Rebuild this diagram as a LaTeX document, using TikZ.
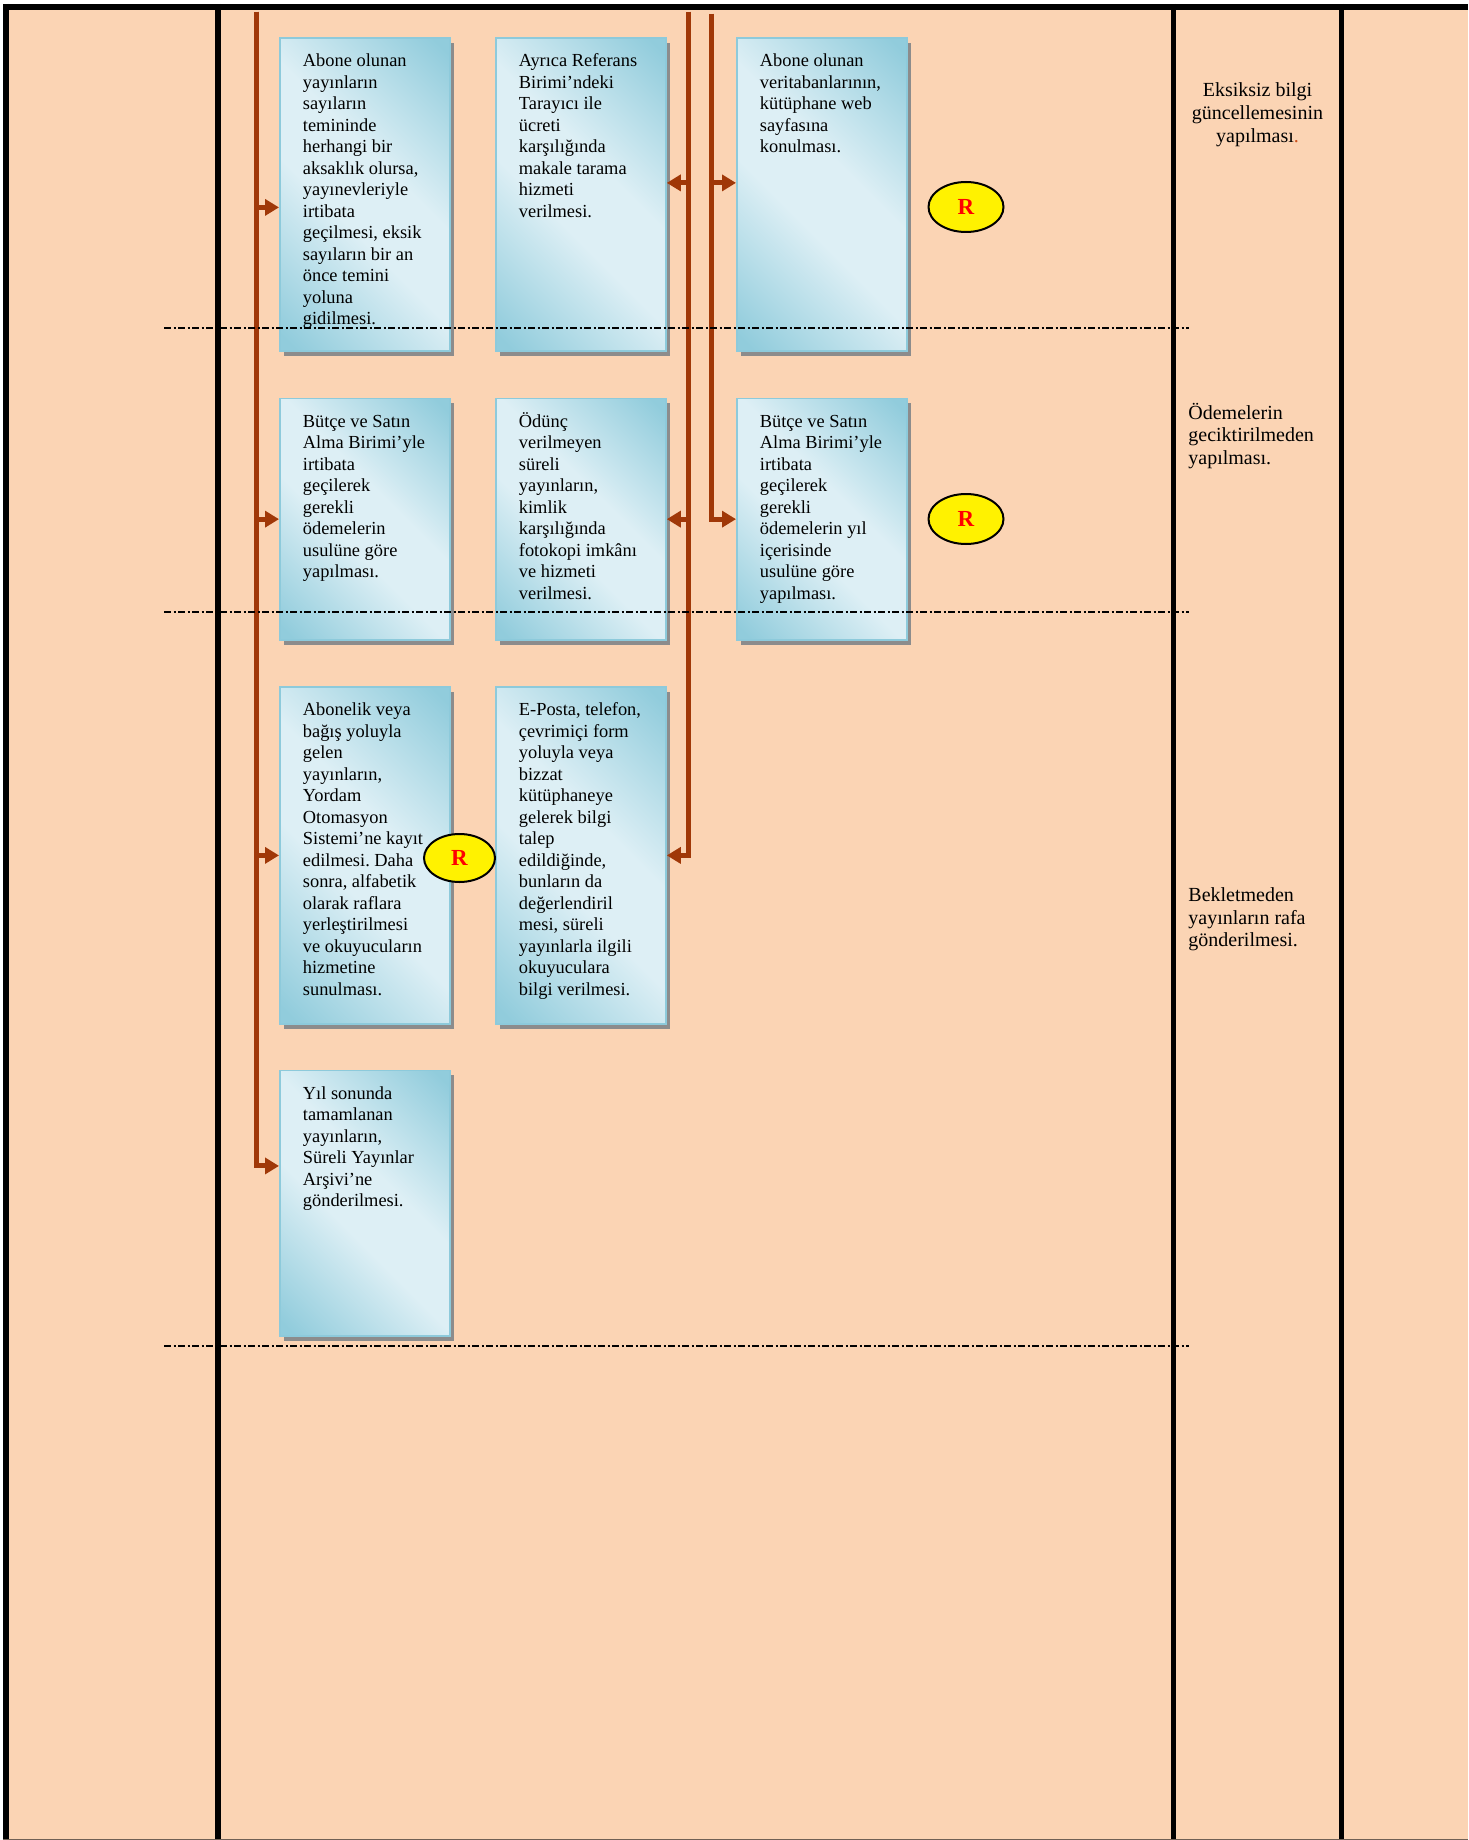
\documentclass[tikz,border=0pt]{standalone}
\usepackage{fontspec}
\setmainfont{Liberation Serif}
\usetikzlibrary{arrows.meta,shapes.geometric,shadows}
\frenchspacing

\definecolor{peach}{RGB}{251,212,180}
\definecolor{bdark}{RGB}{145,204,220}
\definecolor{blight}{RGB}{221,239,245}
\definecolor{bedge}{RGB}{141,202,219}
\definecolor{flowc}{RGB}{160,56,8}
\definecolor{dotred}{RGB}{204,82,30}
\definecolor{edgebrown}{RGB}{112,96,84}

% glassy fill: light along one diagonal, darker towards the other two corners
\pgfdeclarehorizontalshading{glassblue}{100bp}{%
  color(0bp)=(bdark); color(17bp)=(bdark); color(43bp)=(blight);
  color(57bp)=(blight); color(83bp)=(bdark); color(100bp)=(bdark)}

% text block of a step box: fixed height, first baseline kept at the same depth
\newcommand{\celltext}[2]{\parbox[t][#1][t]{62pt}{%
  \fontsize{9.2pt}{10.75pt}\selectfont\raggedright\rule{0pt}{9.5pt}#2}}

\begin{document}
\begin{tikzpicture}[x=0.5pt,y=-0.5pt,
  task/.style={rectangle, anchor=north west, inner xsep=11.5pt, inner ysep=5pt,
    shading=glassblue, shading angle=45, draw=bedge, line width=0.9pt,
    drop shadow={shadow xshift=2pt, shadow yshift=-2.5pt, fill=black!45, opacity=1}},
  rmark/.style={ellipse, draw=black, line width=1pt, fill=yellow, inner sep=0pt,
    minimum width=37.5pt, minimum height=25pt, text=red,
    font=\fontsize{11.5pt}{13pt}\selectfont\bfseries},
  note/.style={inner sep=0pt, font=\fontsize{10pt}{11.35pt}\selectfont},
  wire/.style={draw=flowc, line width=2.5pt},
  arr/.style={wire, -{Triangle[length=7pt,width=8pt]}},
  lane/.style={draw=black, line width=2.8pt},
  divider/.style={draw=black, line width=1pt,
    dash pattern=on 3.5pt off 1.25pt on 1pt off 1.25pt}
]
\useasboundingbox (0,0) rectangle (1468,1840);
\fill[white] (0,0) rectangle (1468,1840);
\fill[peach] (3,4) rectangle (1468,1840);

% table frame and column rules
\draw[black, line width=3pt] (3,7) -- (1468,7);
\draw[lane] (6,4) -- (6,1840);
\draw[lane] (218,4) -- (218,1840);
\draw[lane] (1173.5,4) -- (1173.5,1840);
\draw[lane] (1341.5,4) -- (1341.5,1840);
\draw[edgebrown, line width=0.6pt] (3,1839.4) -- (1468,1839.4);

% step boxes
\node[task] (b1) at (279,37) {\celltext{146.5pt}{Abone olunan\\ yayınların\\ sayıların\\ temininde\\ herhangi bir\\ aksaklık olursa,\\ yayınevleriyle\\ irtibata\\ geçilmesi, eksik\\ sayıların bir an\\ önce temini\\ yoluna\\ gidilmesi.}};
\node[task] (b2) at (495,37) {\celltext{146.5pt}{Ayrıca Referans\\ Birimi’ndeki\\ Tarayıcı ile\\ ücreti\\ karşılığında\\ makale tarama\\ hizmeti\\ verilmesi.}};
\node[task] (b3) at (736,37) {\celltext{146.5pt}{Abone olunan\\ veritabanlarının,\\ kütüphane web\\ sayfasına\\ konulması.}};

\node[task] (b4) at (279,397.5) {\celltext{110.75pt}{Bütçe ve Satın\\ Alma Birimi’yle\\ irtibata\\ geçilerek\\ gerekli\\ ödemelerin\\ usulüne göre\\ yapılması.}};
\node[task] (b5) at (495,397.5) {\celltext{110.75pt}{Ödünç\\ verilmeyen\\ süreli\\ yayınların,\\ kimlik\\ karşılığında\\ fotokopi imkânı\\ ve hizmeti\\ verilmesi.}};
\node[task] (b9) at (736,397.5) {\celltext{110.75pt}{Bütçe ve Satın\\ Alma Birimi’yle\\ irtibata\\ geçilerek\\ gerekli\\ ödemelerin yıl\\ içerisinde\\ usulüne göre\\ yapılması.}};

\node[task] (b6) at (279,686) {\celltext{158.5pt}{Abonelik veya\\ bağış yoluyla\\ gelen\\ yayınların,\\ Yordam\\ Otomasyon\\ Sistemi’ne kayıt\\ edilmesi. Daha\\ sonra, alfabetik\\ olarak raflara\\ yerleştirilmesi\\ ve okuyucuların\\ hizmetine\\ sunulması.}};
\node[task] (b8) at (495,686) {\celltext{158.5pt}{E-Posta, telefon,\\ çevrimiçi form\\ yoluyla veya\\ bizzat\\ kütüphaneye\\ gelerek bilgi\\ talep\\ edildiğinde,\\ bunların da\\ değerlendiril\\ mesi, süreli\\ yayınlarla ilgili\\ okuyuculara\\ bilgi verilmesi.}};

\node[task] (b7) at (279,1069.5) {\celltext{122.75pt}{Yıl sonunda\\ tamamlanan\\ yayınların,\\ Süreli Yayınlar\\ Arşivi’ne\\ gönderilmesi.}};

% R markers
\node[rmark] (r1) at (966,207) {\raisebox{-1pt}{R}};
\node[rmark] (r2) at (966,519) {\raisebox{-1pt}{R}};
\node[rmark, minimum width=35.5pt, minimum height=24pt] (r3) at (459.5,858) {\raisebox{-1pt}{R}};

% notes in the right-hand column
\node[note, anchor=base] (n1) at (1257.5,97) {\parbox[t]{90pt}{\centering Eksiksiz bilgi\\ güncellemesinin\\ yapılması\textcolor{dotred}{.}}};
\node[note, anchor=base west] (n2) at (1188,419) {\parbox[t]{80pt}{\raggedright Ödemelerin\\ geciktirilmeden\\ yapılması.}};
\node[note, anchor=base west] (n3) at (1188,901.5) {\parbox[t]{80pt}{\raggedright Bekletmeden\\ yayınların rafa\\ gönderilmesi.}};

% flow lines
\coordinate (ta) at (256,12);
\coordinate (tb) at (688.5,12);
\coordinate (tc) at (711.5,14);

\draw[arr] (ta) |- ([yshift=-6.5pt]b1.west);
\draw[arr] (ta) |- (b4.west);
\draw[arr] (ta) |- (b6.west);
\draw[arr] (ta) |- ([yshift=18.6pt]b7.west);

\draw[arr] (tb) |- ([yshift=5.75pt]b2.east);
\draw[arr] (tb) |- (b5.east);
\draw[arr] (tb) |- (b8.east);

\draw[arr] (tc) |- ([yshift=5.75pt]b3.west);
\draw[arr] (tc) |- (b9.west);

% stage separators
\draw[divider] (164,328) -- (1189,328);
\draw[divider] (164,612) -- (1189,612);
\draw[divider] (164,1346) -- (1189,1346);
\end{tikzpicture}
\end{document}
